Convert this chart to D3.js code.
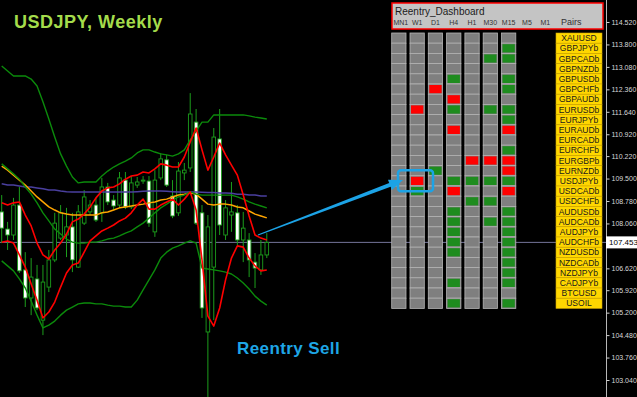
<!DOCTYPE html>
<html>
<head>
<meta charset="utf-8">
<script src="https://cdn.jsdelivr.net/npm/d3@7"></script>
<style>
  body { margin: 0; background: #000; }
  svg { display: block; font-family: 'Liberation Sans', Arial, sans-serif; }
</style>
</head>
<body>
<script>
const w = 637;
const h = 397;

// weekly candles
const opens = [108.43, 107.88, 107.69, 108.65, 106.57, 105.67, 106.28, 104.96, 106.02, 106.89, 107.59, 107.69, 107.95, 106.66, 108.07, 108.43, 108.65, 108.40, 109.23, 108.81, 108.65, 109.45, 108.59, 109.29, 109.42, 109.42, 107.79, 109.52, 110.10, 108.94, 108.40, 109.68, 109.84, 111.31, 108.40, 104.58, 106.66, 110.77, 107.69, 108.33, 108.40, 107.53, 107.53, 106.82, 106.57, 107.05];
const highs = [108.97, 108.11, 108.88, 109.23, 107.14, 106.95, 106.73, 106.73, 107.21, 108.40, 108.65, 108.56, 108.40, 108.65, 109.13, 108.81, 108.88, 109.52, 109.36, 108.97, 109.71, 109.71, 109.58, 109.55, 109.58, 109.58, 109.77, 110.32, 110.26, 109.45, 110.03, 110.00, 112.24, 111.73, 108.65, 108.33, 111.12, 111.73, 108.81, 109.39, 108.65, 108.43, 107.75, 107.11, 107.53, 107.75];
const lows = [107.43, 107.21, 107.53, 106.47, 105.38, 105.12, 105.28, 104.48, 105.86, 106.82, 107.53, 106.98, 106.50, 106.63, 108.01, 108.33, 108.11, 108.11, 108.65, 108.49, 108.56, 108.52, 108.52, 109.20, 109.33, 107.95, 107.63, 109.45, 109.23, 108.23, 108.30, 109.45, 109.71, 108.01, 105.03, 102.40, 104.96, 107.69, 107.53, 107.79, 107.37, 106.82, 106.34, 105.99, 106.41, 106.95];
const closes = [107.91, 107.69, 108.65, 106.54, 105.67, 106.34, 105.35, 106.18, 106.89, 108.07, 108.40, 107.95, 106.89, 108.43, 108.91, 108.65, 108.17, 109.23, 108.75, 108.62, 109.52, 108.59, 109.36, 109.39, 109.45, 108.07, 109.45, 110.13, 109.29, 108.30, 109.74, 109.77, 111.57, 108.07, 105.35, 107.95, 110.83, 108.01, 108.56, 108.43, 107.53, 107.91, 106.89, 106.63, 107.05, 107.453];

// indicator lines
const bandUpper = [113.11, 112.95, 112.79, 112.79, 112.79, 112.69, 112.47, 111.96, 111.41, 110.83, 110.29, 109.90, 109.55, 109.36, 109.39, 109.39, 109.39, 109.58, 109.74, 109.87, 109.97, 110.06, 110.16, 110.32, 110.42, 110.42, 110.35, 110.29, 110.26, 110.22, 110.29, 110.42, 110.74, 111.02, 111.31, 111.31, 111.54, 111.54, 111.54, 111.54, 111.54, 111.54, 111.51, 111.47, 111.44, 111.41];
const bandMid = [109.97, 109.81, 109.65, 109.48, 109.23, 109.00, 108.72, 108.40, 108.14, 107.88, 107.72, 107.56, 107.46, 107.43, 107.43, 107.46, 107.46, 107.50, 107.56, 107.59, 107.66, 107.75, 107.82, 107.95, 108.07, 108.23, 108.40, 108.56, 108.68, 108.81, 108.91, 108.97, 109.07, 109.00, 108.97, 108.97, 108.97, 108.97, 108.97, 108.97, 108.91, 108.84, 108.75, 108.68, 108.62, 108.56];
const bandLower = [106.86, 106.70, 106.54, 106.28, 105.99, 105.57, 105.12, 104.71, 104.80, 104.93, 105.12, 105.28, 105.38, 105.48, 105.51, 105.51, 105.48, 105.48, 105.44, 105.41, 105.41, 105.38, 105.38, 105.60, 105.93, 106.25, 106.57, 106.95, 107.14, 107.27, 107.34, 107.43, 107.50, 107.43, 106.63, 106.60, 106.57, 106.54, 106.50, 106.44, 106.31, 106.15, 105.96, 105.73, 105.57, 105.44];
const redUpper = [108.72, 108.65, 108.72, 108.75, 108.33, 107.98, 107.43, 107.05, 106.92, 107.21, 107.43, 107.72, 108.11, 108.20, 108.36, 108.59, 108.88, 109.10, 109.20, 109.23, 109.33, 109.48, 109.58, 109.61, 109.71, 109.68, 109.81, 109.97, 109.93, 109.87, 109.87, 110.19, 110.67, 111.12, 110.42, 109.77, 110.19, 110.64, 110.26, 109.93, 109.61, 108.97, 108.30, 107.69, 107.59, 107.53];
const redLower = [107.46, 107.50, 107.43, 107.05, 106.66, 106.12, 105.60, 105.03, 105.22, 105.54, 106.02, 106.47, 106.73, 106.79, 107.14, 107.50, 107.66, 107.82, 107.91, 108.01, 108.14, 108.23, 108.40, 108.65, 108.84, 108.52, 108.52, 108.65, 108.75, 108.84, 108.65, 108.84, 109.07, 108.49, 106.89, 105.09, 104.77, 105.35, 106.25, 106.95, 107.34, 107.30, 106.95, 106.70, 106.54, 106.57];
const orangeMa = [109.90, 109.77, 109.61, 109.45, 109.29, 109.10, 108.91, 108.75, 108.59, 108.49, 108.40, 108.36, 108.33, 108.33, 108.33, 108.33, 108.33, 108.40, 108.43, 108.49, 108.56, 108.59, 108.62, 108.65, 108.68, 108.72, 108.75, 108.81, 108.84, 108.91, 108.97, 109.00, 109.04, 109.00, 108.84, 108.68, 108.65, 108.68, 108.68, 108.65, 108.59, 108.56, 108.46, 108.36, 108.30, 108.24];
const purpleMa = [109.33, 109.29, 109.29, 109.26, 109.23, 109.23, 109.20, 109.17, 109.13, 109.13, 109.10, 109.08, 109.07, 109.07, 109.07, 109.07, 109.07, 109.07, 109.07, 109.07, 109.07, 109.07, 109.07, 109.08, 109.09, 109.10, 109.10, 109.10, 109.09, 109.08, 109.07, 109.07, 109.07, 109.07, 109.06, 109.05, 109.05, 109.04, 109.04, 109.03, 109.00, 109.00, 108.97, 108.97, 108.94, 108.94];

const priceTicks = [114.52, 113.80, 113.08, 112.36, 111.64, 110.92, 110.22, 109.50, 108.78, 108.06, 107.34, 106.62, 105.92, 105.20, 104.48, 103.76, 103.04];
const lastPrice = 107.453;

// dashboard
const timeframes = ['MN1', 'W1', 'D1', 'H4', 'H1', 'M30', 'M15', 'M5', 'M1'];
const pairs = ['XAUUSD', 'GBPJPYb', 'GBPCADb', 'GBPNZDb', 'GBPUSDb', 'GBPCHFb', 'GBPAUDb', 'EURUSDb', 'EURJPYb', 'EURAUDb', 'EURCADb', 'EURCHFb', 'EURGBPb', 'EURNZDb', 'USDJPYb', 'USDCADb', 'USDCHFb', 'AUDUSDb', 'AUDCADb', 'AUDJPYb', 'AUDCHFb', 'NZDUSDb', 'NZDCADb', 'NZDJPYb', 'CADJPYb', 'BTCUSD', 'USOIL'];
// one letter per column MN1..M15: G buy, R sell, - none
const signals = ['-------', '------G', '-----GG', '-------', '---G--G', '--R---G', '---R---', '-R-G-GG', '------G', '---R--R', '-------', '------G', '----RRR', '--G---R', '-R-GGGG', '-G-R--R', '----GG-', '---G--G', '---G-GG', '---G--G', '---G--G', '---G--G', '------G', '------G', '---G--G', '-------', '---G--G'];

const svg = d3.select('body').append('svg')
  .attr('width', w)
  .attr('height', h);
svg.append('rect').attr('width', w).attr('height', h).attr('fill', '#000');

const x = d3.scaleLinear().domain([0, opens.length - 1]).range([1.7, 266.8]);
const y = d3.scaleLinear().domain([103.04, 114.52]).range([380, 22]);

svg.append('clipPath').attr('id', 'plot')
  .append('rect').attr('width', 606).attr('height', h);

// current price line
svg.append('line')
  .attr('x1', 0).attr('x2', 606)
  .attr('y1', y(lastPrice)).attr('y2', y(lastPrice))
  .attr('stroke', '#75759a').attr('stroke-width', 1);

const plot = svg.append('g').attr('clip-path', 'url(#plot)');

const candles = plot.selectAll('g.candle')
  .data(opens.map((o, i) => ({ i, o, hi: highs[i], lo: lows[i], c: closes[i] })))
  .enter().append('g')
  .attr('class', 'candle');

candles.append('line')
  .attr('x1', (d) => x(d.i)).attr('x2', (d) => x(d.i))
  .attr('y1', (d) => y(d.hi)).attr('y2', (d) => y(d.lo))
  .attr('stroke', '#1c9e1c').attr('stroke-width', 1);

candles.append('rect')
  .attr('x', (d) => x(d.i) - 1.8)
  .attr('width', 3.6)
  .attr('y', (d) => y(Math.max(d.o, d.c)))
  .attr('height', (d) => Math.max(1, Math.abs(y(d.o) - y(d.c))))
  .attr('fill', (d) => d.c < d.o ? '#fff' : '#000')
  .attr('stroke', '#1c9e1c').attr('stroke-width', 0.9);

const line = d3.line().x((d, i) => x(i)).y((d) => y(d));
const series = [
  { values: purpleMa, color: '#4a3f9e', width: 1.5 },
  { values: orangeMa, color: '#ffa500', width: 1.5 },
  { values: bandUpper, color: '#0b8a0b', width: 1.4 },
  { values: bandMid, color: '#0b8a0b', width: 1.4 },
  { values: bandLower, color: '#0b8a0b', width: 1.4 },
  { values: redUpper, color: '#ff0000', width: 1.6 },
  { values: redLower, color: '#ff0000', width: 1.6 }
];
plot.selectAll('path.ind')
  .data(series)
  .enter().append('path')
  .attr('class', 'ind')
  .attr('d', (d) => line(d.values))
  .attr('fill', 'none')
  .attr('stroke', (d) => d.color)
  .attr('stroke-width', (d) => d.width)
  .attr('stroke-linejoin', 'round');

// price axis (the label under the current price box is hidden)
svg.append('line')
  .attr('x1', 606.5).attr('x2', 606.5).attr('y1', 0).attr('y2', h)
  .attr('stroke', '#b8b8b8');
const axis = svg.append('g')
  .attr('transform', 'translate(606.5,0)')
  .call(d3.axisRight(y).tickValues(priceTicks).tickSize(3).tickPadding(2)
    .tickFormat((d) => Math.abs(y(d) - y(lastPrice)) < 8 ? '' : d3.format('.3f')(d)));
axis.select('.domain').remove();
axis.selectAll('line').attr('stroke', '#d0d0d0');
axis.selectAll('text')
  .attr('fill', '#d8d8d8')
  .style('font-size', '7px')
  .style('font-family', "'Liberation Sans', Arial, sans-serif");

const lastBox = svg.append('g').attr('transform', `translate(606,${y(lastPrice)})`);
lastBox.append('rect').attr('x', 0).attr('y', -6).attr('width', 31).attr('height', 12).attr('fill', '#fff');
lastBox.append('text').attr('x', 3).attr('y', 3)
  .attr('fill', '#000').style('font-size', '8px')
  .text(lastPrice.toFixed(3));

// titles
svg.append('text')
  .attr('x', 14).attr('y', 28)
  .attr('fill', '#a4dc4b')
  .style('font-size', '18px').style('font-weight', 'bold').style('letter-spacing', '0.5px')
  .text('USDJPY, Weekly');

svg.append('text')
  .attr('x', 237).attr('y', 354)
  .attr('fill', '#1ea6e6')
  .style('font-size', '17px').style('font-weight', 'bold').style('letter-spacing', '0.4px')
  .text('Reentry Sell');

// dashboard
const dash = svg.append('g');
dash.append('rect')
  .attr('x', 392).attr('y', 3).attr('width', 211).attr('height', 26)
  .attr('fill', '#c4c4c4').attr('stroke', '#ff0000').attr('stroke-width', 1.5);
dash.append('text')
  .attr('x', 395).attr('y', 15)
  .attr('fill', '#1a1a1a').style('font-size', '10px')
  .text('Reentry_Dashboard');

const colX = d3.scaleLinear().domain([0, 1]).range([391.7, 410]);
const rowY = d3.scaleLinear().domain([0, 1]).range([33, 43.2]);
const cellW = 14.3;
const cellH = rowY(1) - rowY(0);

dash.selectAll('text.tf')
  .data(timeframes)
  .enter().append('text')
  .attr('class', 'tf')
  .attr('x', (d, i) => colX(i) + cellW / 2 + (i === 0 ? 2 : 0))
  .attr('y', 25)
  .attr('text-anchor', 'middle')
  .attr('fill', '#333')
  .style('font-size', '7px')
  .text((d) => d);
dash.append('text')
  .attr('x', 561).attr('y', 25)
  .attr('fill', '#333').style('font-size', '9px')
  .text('Pairs');

const cells = [];
signals.forEach((s, r) => {
  s.split('').forEach((v, c) => cells.push({ r, c, v }));
});

dash.selectAll('rect.cell')
  .data(cells)
  .enter().append('rect')
  .attr('class', 'cell')
  .attr('x', (d) => colX(d.c))
  .attr('y', (d) => rowY(d.r))
  .attr('width', cellW)
  .attr('height', cellH)
  .attr('fill', '#7f7f7f')
  .attr('stroke', '#b4b4b4')
  .attr('stroke-width', 0.8);

dash.selectAll('rect.sig')
  .data(cells.filter((d) => d.v !== '-'))
  .enter().append('rect')
  .attr('class', 'sig')
  .attr('x', (d) => colX(d.c) + 1)
  .attr('y', (d) => rowY(d.r) + 1)
  .attr('width', cellW - 2)
  .attr('height', cellH - 2)
  .attr('fill', (d) => d.v === 'G' ? '#1e8c1e' : '#ff0000');

dash.selectAll('rect.pair')
  .data(pairs)
  .enter().append('rect')
  .attr('class', 'pair')
  .attr('x', 556)
  .attr('y', (d, i) => rowY(i))
  .attr('width', 46)
  .attr('height', cellH)
  .attr('fill', '#ffd700')
  .attr('stroke', '#cfa600')
  .attr('stroke-width', 0.6);

dash.selectAll('text.pair')
  .data(pairs)
  .enter().append('text')
  .attr('class', 'pair')
  .attr('x', 579)
  .attr('y', (d, i) => rowY(i) + cellH / 2 + 3)
  .attr('text-anchor', 'middle')
  .attr('fill', '#1a1a1a')
  .style('font-size', '8.5px')
  .text((d) => d);

// highlight on USDJPY W1 and the arrow to it
const hl = { r: pairs.indexOf('USDJPYb'), c: 1 };
svg.append('rect')
  .attr('x', colX(hl.c) - 12).attr('y', rowY(hl.r) - 5.5)
  .attr('width', 35).attr('height', 21).attr('rx', 3)
  .attr('fill', 'none').attr('stroke', '#1ca3e6').attr('stroke-width', 2.5);

const a0 = [258, 235];
const a1 = [403, 180];
const len = Math.hypot(a1[0] - a0[0], a1[1] - a0[1]);
const u = [(a1[0] - a0[0]) / len, (a1[1] - a0[1]) / len];
const n = [-u[1], u[0]];
const hb = [a1[0] - 14 * u[0], a1[1] - 14 * u[1]];
const pt = (p, k) => [p[0] + k * n[0], p[1] + k * n[1]];
svg.append('polygon')
  .attr('points', [pt(a0, 0.6), pt(hb, 2), pt(hb, 5.5), a1, pt(hb, -5.5), pt(hb, -2), pt(a0, -0.6)].map((p) => p.join(',')).join(' '))
  .attr('fill', '#1ca3e6');
</script>
</body>
</html>
